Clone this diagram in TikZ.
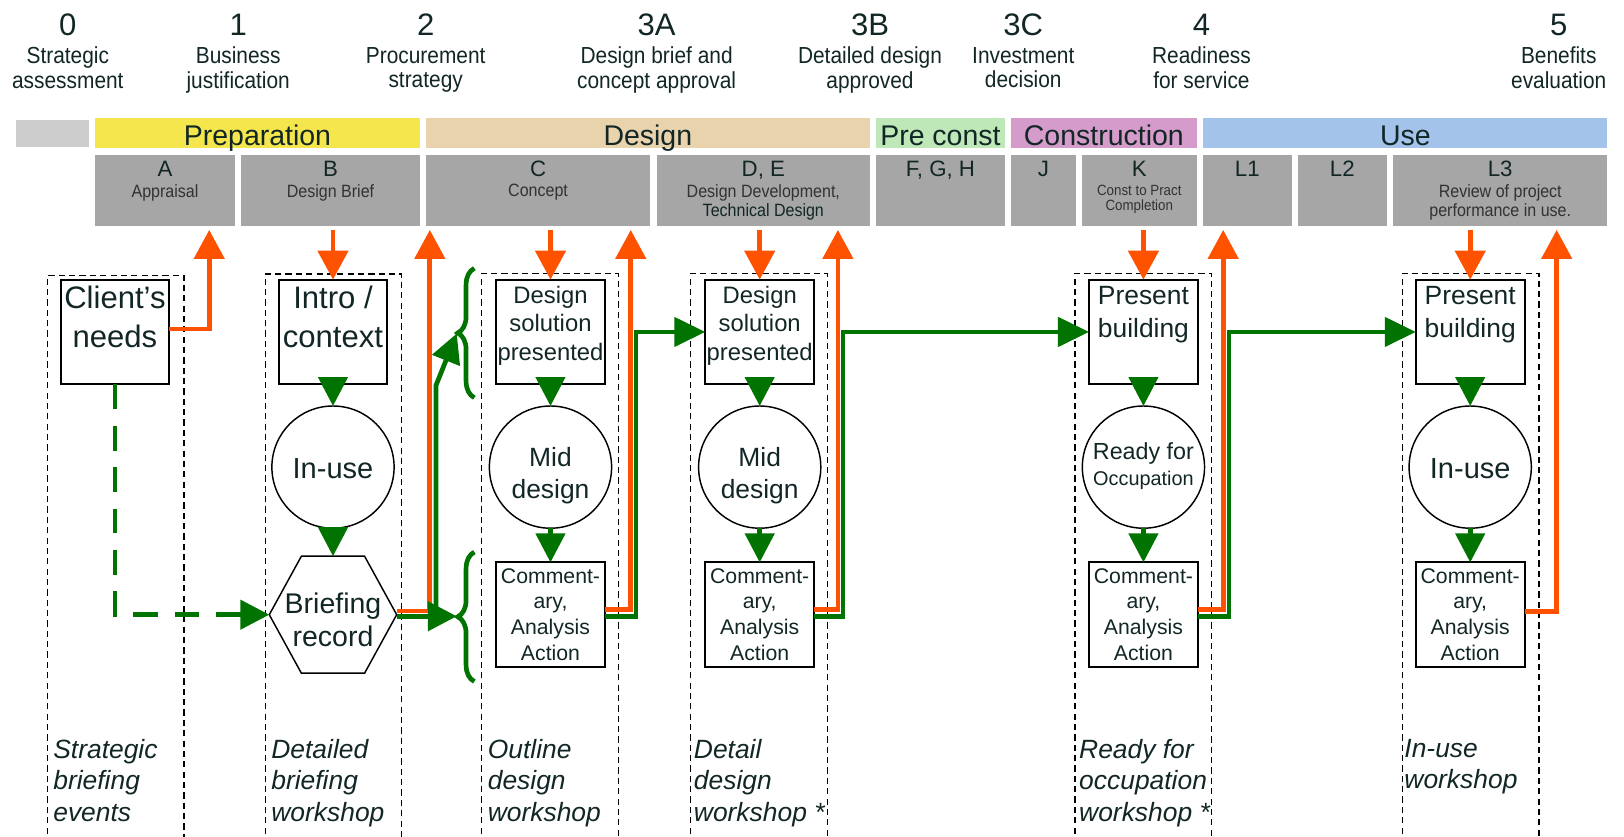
\documentclass[tikz,border=0pt]{standalone}
\usepackage{fontspec}
\setmainfont{Liberation Sans}
\newfontfamily\condfont[FakeStretch=0.9]{Liberation Sans}
\usetikzlibrary{arrows.meta,calc,decorations.pathreplacing}
\definecolor{txt}{RGB}{18,38,38}
\definecolor{subtxt}{RGB}{50,50,50}
\definecolor{gbox}{RGB}{166,166,166}
\definecolor{lgray}{RGB}{204,204,204}
\definecolor{prepc}{RGB}{244,230,76}
\definecolor{desc}{RGB}{232,211,172}
\definecolor{prec}{RGB}{191,232,184}
\definecolor{consc}{RGB}{213,156,203}
\definecolor{usec}{RGB}{163,195,235}
\definecolor{org}{RGB}{255,82,0}
\definecolor{grn}{RGB}{0,115,0}
\newcommand{\fsz}[2]{\fontsize{#1}{#2}\selectfont}
\begin{document}
\begin{tikzpicture}[x=1pt,y=1pt,
  every node/.style={inner sep=0pt, outer sep=0pt, text=txt},
  num/.style={font=\fsz{30}{36}, anchor=base},
  hlab/.style={font=\condfont\fsz{22.4}{24}, align=center, anchor=north},
  bandbox/.style={font=\fsz{27.5}{30}, text height=26pt, text depth=3pt},
  gb/.style={fill=gbox, font=\fsz{21.5}{24}, text height=20.4pt, text depth=48.6pt},
  subl/.style={font=\condfont\fsz{17.2}{19}, text=subtxt, align=center, anchor=north},
  dbox/.style={draw=black, line width=1.2pt, dash pattern=on 6pt off 4pt},
  bx/.style={draw=black, line width=1.8pt, minimum width=105pt, minimum height=101pt},
  cir/.style={draw=black, line width=1.4pt, circle, minimum size=118pt},
  bigtxt/.style={font=\fsz{30}{37}, align=center, anchor=north},
  dsptxt/.style={font=\fsz{23}{27.5}, align=center, anchor=north},
  prestxt/.style={font=\fsz{25.5}{31}, align=center, anchor=north},
  midtxt/.style={font=\fsz{25.5}{30.6}, align=center, anchor=north},
  comtxt/.style={font=\fsz{20.5}{24.7}, align=center, anchor=north},
  ital/.style={font=\itshape\fsz{25.5}{30.6}, align=left, anchor=north west},
  oline/.style={draw=org, line width=4.5pt},
  oarr/.style={oline, -{Triangle[length=28pt,width=29pt]}},
  gline/.style={draw=grn, line width=4.5pt},
  garr/.style={gline, -{Triangle[length=28pt,width=28pt]}},
  garrl/.style={gline, -{Triangle[length=30pt,width=28pt]}},
  gbrace/.style={draw=grn, line width=4.5pt, decorate, decoration={brace, amplitude=16pt}}
]
\useasboundingbox (0,0) rectangle (1568,-808);
\clip (0,0) rectangle (1568,-808);

% ---------- header numbers and labels ----------
\node[num] (n0) at (65.5,-33.8) {0};
\node[num] (n1) at (230,-33.8) {1};
\node[num] (n2) at (411,-33.8) {2};
\node[num] (n3a) at (634,-33.8) {3A};
\node[num] (n3b) at (840,-33.8) {3B};
\node[num] (n3c) at (988,-33.8) {3C};
\node[num] (n4) at (1160,-33.8) {4};
\node[num] (n5) at (1505,-33.8) {5};
\node[hlab] (h0) at (65.5,-45.5) {Strategic\\assessment};
\node[hlab] (h1) at (230,-45.5) {Business\\justification};
\node[hlab] (h2) at (411,-45.5) {Procurement\\strategy};
\node[hlab] (h3a) at (634,-45.5) {Design brief and\\concept approval};
\node[hlab] (h3b) at (840,-45.5) {Detailed design\\approved};
\node[hlab] (h3c) at (988,-45.5) {Investment\\decision};
\node[hlab] (h4) at (1160,-45.5) {Readiness\\for service};
\node[hlab] (h5) at (1505,-45.5) {Benefits\\evaluation};

% ---------- stage bands ----------
\node[fill=lgray, minimum width=70.5pt, minimum height=26pt] (b0) at (50.25,-129) {};
\node[bandbox, fill=prepc, minimum width=313.8pt] (bprep) at (248.6,-128.5) {Preparation};
\node[bandbox, fill=desc, minimum width=429pt] (bdes) at (625.5,-128.5) {Design};
\node[bandbox, fill=prec, minimum width=124pt] (bpre) at (908,-128.5) {Pre const};
\node[bandbox, fill=consc, minimum width=179.5pt] (bcons) at (1065.75,-128.5) {Construction};
\node[bandbox, fill=usec, minimum width=390.3pt] (buse) at (1356.85,-128.5) {Use};

% ---------- RIBA boxes ----------
\node[gb, minimum width=135.3pt] (gA) at (159.35,-184.1) {A};
\node[gb, minimum width=172.8pt] (gB) at (319.1,-184.1) {B};
\node[gb, minimum width=217pt] (gC) at (519.5,-184.1) {C};
\node[gb, minimum width=206pt] (gD) at (737,-184.1) {D, E};
\node[gb, minimum width=124pt] (gF) at (908,-184.1) {F, G, H};
\node[gb, minimum width=63pt] (gJ) at (1007.5,-184.1) {J};
\node[gb, minimum width=111pt] (gK) at (1100,-184.1) {K};
\node[gb, minimum width=85.3pt] (gL1) at (1204.35,-184.1) {L1};
\node[gb, minimum width=86pt] (gL2) at (1296,-184.1) {L2};
\node[gb, minimum width=207pt] (gL3) at (1448.5,-184.1) {L3};
\node[subl] (sA) at (159.35,-178) {Appraisal};
\node[subl] (sB) at (319.1,-178) {Design Brief};
\node[subl] (sC) at (519.5,-178) {Concept};
\node[subl] (sD) at (737,-178) {Design Development,\\{\color{txt}Technical Design}};
\node[subl, font=\condfont\fsz{14.3}{14.5}] (sK) at (1100,-178.8) {Const to Pract\\Completion};
\node[subl] (sL3) at (1448.5,-178) {Review of project\\performance in use.};

% ---------- dashed workshop frames ----------
\draw[dbox] (45.7,-815) -- (45.7,-266) -- (177.7,-266) -- (177.7,-815);
\draw[dbox] (256,-815) -- (256,-264.6) -- (388,-264.6) -- (388,-815);
\draw[dbox] (465,-815) -- (465,-264) -- (597,-264) -- (597,-815);
\draw[dbox] (667,-815) -- (667,-264) -- (799,-264) -- (799,-815);
\draw[dbox] (1038,-815) -- (1038,-264) -- (1170,-264) -- (1170,-815);
\draw[dbox] (1354,-815) -- (1354,-264) -- (1486,-264) -- (1486,-815);

% ---------- column 0 ----------
\node[bx] (cn) at (111,-320.5) {};
\node[bigtxt] (tcn) at (111,-276.4) {Client’s\\needs};

% ---------- column B ----------
\node[bx] (ib) at (321.5,-320.5) {};
\node[bigtxt] (tib) at (321.5,-276.4) {Intro /\\context};
\node[cir] (iu) at (321.5,-451) {};
\node[font=\fsz{28}{32}, anchor=base] (tiu) at (321.5,-462) {In-use};
\node[minimum width=123pt, minimum height=113pt] (hex) at (321.5,-593.5) {};
\draw[black, line width=1.4pt] (hex.west) -- ($(hex.north west)+(31,0)$) -- ($(hex.north east)+(-31,0)$) -- (hex.east) -- ($(hex.south east)+(-31,0)$) -- ($(hex.south west)+(31,0)$) -- cycle;
\node[font=\fsz{27.5}{32}, align=center, anchor=north] (thex) at (321.5,-572) {Briefing\\record};

% ---------- column C ----------
\node[bx] (dc) at (531.5,-320.5) {};
\node[dsptxt] (tdc) at (531.5,-276.1) {Design\\solution\\presented};
\node[cir] (mc) at (531.5,-451) {};
\node[midtxt] (tmc) at (531.5,-432) {Mid\\design};
\node[bx] (cc) at (531.5,-593.5) {};
\node[comtxt] (tcc) at (531.5,-548.9) {Comment-\\ary,\\Analysis\\Action};

% ---------- column D ----------
\node[bx] (dd) at (733.5,-320.5) {};
\node[dsptxt] (tdd) at (733.5,-276.1) {Design\\solution\\presented};
\node[cir] (md) at (733.5,-451) {};
\node[midtxt] (tmd) at (733.5,-432) {Mid\\design};
\node[bx] (cd) at (733.5,-593.5) {};
\node[comtxt] (tcd) at (733.5,-548.9) {Comment-\\ary,\\Analysis\\Action};

% ---------- column K ----------
\node[bx] (pk) at (1104,-320.5) {};
\node[prestxt] (tpk) at (1104,-276.9) {Present\\building};
\node[cir] (rk) at (1104,-451) {};
\node[font=\fsz{22.5}{25}, anchor=base] (trk1) at (1104,-444) {Ready for};
\node[font=\fsz{19.2}{22}, anchor=base] (trk2) at (1104,-469) {Occupation};
\node[bx] (ck) at (1104,-593.5) {};
\node[comtxt] (tck) at (1104,-548.9) {Comment-\\ary,\\Analysis\\Action};

% ---------- column L3 ----------
\node[bx] (pl) at (1419.5,-320.5) {};
\node[prestxt] (tpl) at (1419.5,-276.9) {Present\\building};
\node[cir] (ul) at (1419.5,-451) {};
\node[font=\fsz{28}{32}, anchor=base] (tul) at (1419.5,-462) {In-use};
\node[bx] (cl) at (1419.5,-593.5) {};
\node[comtxt] (tcl) at (1419.5,-548.9) {Comment-\\ary,\\Analysis\\Action};

% ---------- bottom italic labels ----------
\node[ital] (w0) at (51.5,-713.6) {Strategic\\briefing\\events};
\node[ital] (wB) at (262,-713.6) {Detailed\\briefing\\workshop};
\node[ital] (wC) at (471,-713.6) {Outline\\design\\workshop};
\node[ital] (wD) at (670,-713.6) {Detail\\design\\workshop *};
\node[ital] (wK) at (1042,-713.6) {Ready for\\occupation\\workshop *};
\node[ital] (wL) at (1356,-713.6) {In-use\\workshop};

% ---------- coordinates ----------
\coordinate (o0) at (202,-222);
\coordinate (oBd) at (321.5,-222);
\coordinate (oBu) at (415,-222);
\coordinate (oCd) at (531.5,-222);
\coordinate (oCu) at (609,-222);
\coordinate (oDd) at (733.5,-222);
\coordinate (oDu) at (809,-222);
\coordinate (oKd) at (1104,-222);
\coordinate (oKu) at (1181,-222);
\coordinate (oLd) at (1419.5,-222);
\coordinate (oLu) at (1503,-222);
\coordinate (br1) at (441,-322);
\coordinate (br2) at (441,-595);
\coordinate (gsplit) at (421,-595);
\coordinate (gbend) at (421,-372);

% ---------- braces ----------
\draw[gbrace] (458,-384) -- (458,-259);
\draw[gbrace] (458,-658) -- (458,-533);

% ---------- orange connectors ----------
\draw[oarr] ($(cn.east)+(0,2.8)$) -| (o0);
\draw[oarr] (oBd) -- (ib.north);
\draw[oarr] ($(hex.east)+(0,3.5)$) -| (oBu);
\draw[oarr] (oCd) -- (dc.north);
\draw[oarr] ($(cc.east)+(0,5)$) -| (oCu);
\draw[oarr] (oDd) -- (dd.north);
\draw[oarr] ($(cd.east)+(0,5)$) -| (oDu);
\draw[oarr] (oKd) -- (pk.north);
\draw[oarr] ($(ck.east)+(0,5)$) -| (oKu);
\draw[oarr] (oLd) -- (pl.north);
\draw[oarr] ($(cl.east)+(0,3)$) -| (oLu);

% ---------- green connectors ----------
\draw[garr, dash pattern=on 24pt off 16pt] (cn.south) |- (hex.west);
\draw[garr] (ib.south) -- (iu.north);
\draw[garr] (iu.south) -- (hex.north);
\draw[garr] ($(hex.east)+(0,-1.5)$) -- (br2);
\draw[garr] (gsplit) -- (gbend) -- (br1);
\draw[garr] (dc.south) -- (mc.north);
\draw[garr] (mc.south) -- (cc.north);
\draw[garrl] ($(cc.east)+(0,-2)$) -- ++(30,0) |- (dd.west);
\draw[garr] (dd.south) -- (md.north);
\draw[garr] (md.south) -- (cd.north);
\draw[garrl] ($(cd.east)+(0,-2)$) -- ++(28,0) |- (pk.west);
\draw[garr] (pk.south) -- (rk.north);
\draw[garr] (rk.south) -- (ck.north);
\draw[garrl] ($(ck.east)+(0,-2)$) -- ++(30,0) |- (pl.west);
\draw[garr] (pl.south) -- (ul.north);
\draw[garr] (ul.south) -- (cl.north);
\end{tikzpicture}
\end{document}
